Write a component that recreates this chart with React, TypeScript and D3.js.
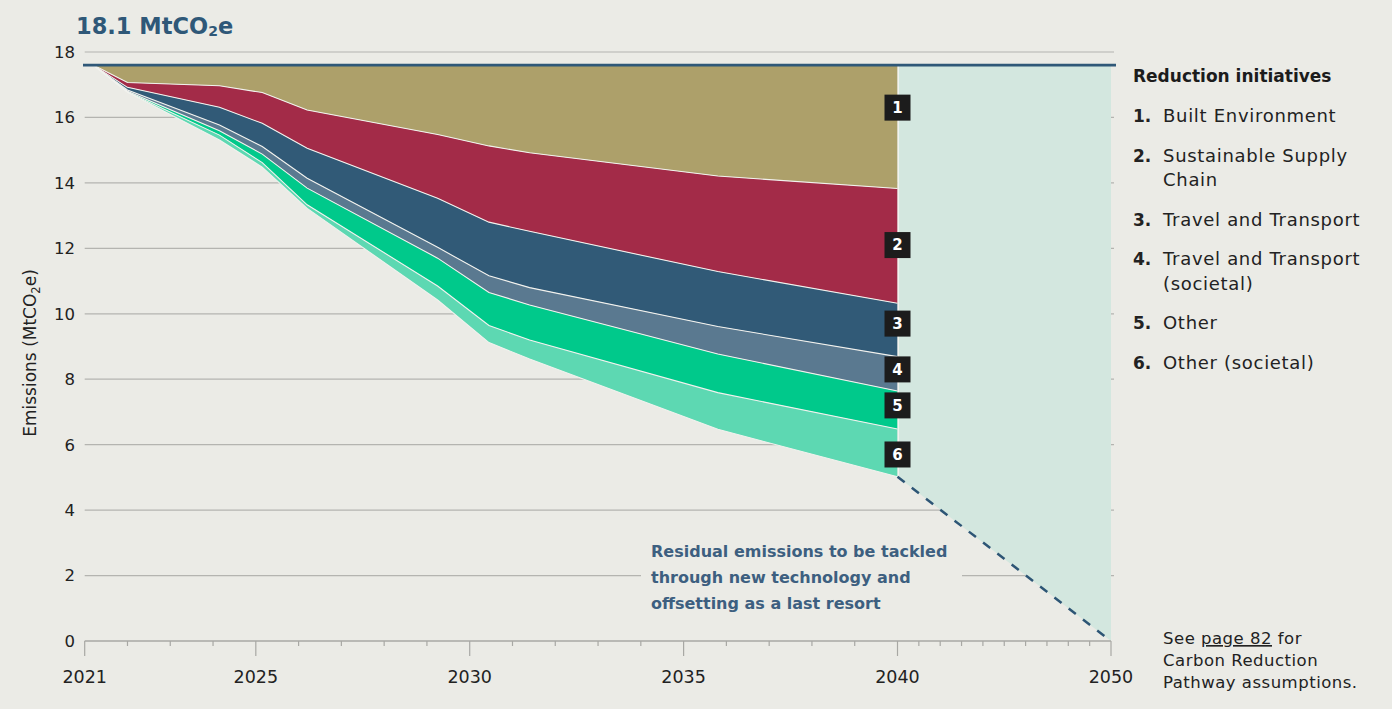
import React from "react";
import * as d3 from "d3";

// reading years (x) of the pathway breakpoints
const years = [2021.2, 2022, 2024.15, 2025.15, 2026.2, 2029.25, 2030.45, 2031.4, 2035.8, 2040];

// remaining emissions after all initiatives (MtCO2e)
const residual = [17.6, 16.77, 15.31, 14.48, 13.22, 10.42, 9.12, 8.62, 6.47, 5.02];

// reductions per initiative (MtCO2e)
const builtEnvironment = [0, 0.53, 0.63, 0.84, 1.37, 2.12, 2.47, 2.68, 3.39, 3.77];
const supplyChain = [0, 0.15, 0.66, 0.94, 1.17, 1.95, 2.33, 2.4, 2.92, 3.51];
const travel = [0, 0.08, 0.54, 0.71, 0.92, 1.5, 1.64, 1.72, 1.68, 1.63];
const travelSocietal = [0, 0.04, 0.18, 0.23, 0.3, 0.33, 0.51, 0.53, 0.84, 1.05];
const other = [0, 0.02, 0.13, 0.26, 0.51, 0.85, 1.01, 1.07, 1.18, 1.16];
const otherSocietal = [0, 0.01, 0.15, 0.14, 0.11, 0.43, 0.52, 0.58, 1.12, 1.46];

const baseline = 17.6;
const netZeroYear = 2050;
const yTicks = [0, 2, 4, 6, 8, 10, 12, 14, 16, 18];
const xTickLabels = [2021, 2025, 2030, 2035, 2040, 2050];
const minorYears = d3.range(2021, 2051);

const initiativeNames = [
  ["Built Environment"],
  ["Sustainable Supply", "Chain"],
  ["Travel and Transport"],
  ["Travel and Transport", "(societal)"],
  ["Other"],
  ["Other (societal)"],
];
// where the numbered boxes sit on the 2040 edge (MtCO2e)
const boxLevels = [16.3, 12.1, 9.7, 8.3, 7.2, 5.7];

const annotation = ["Residual emissions to be tackled", "through new technology and", "offsetting as a last resort"];

const colors = ["#ada06a", "#a32b48", "#315a77", "#5a7990", "#00c98b", "#5dd8b2"];
const keys = ["residual", "otherSocietal", "other", "travelSocietal", "travel", "supplyChain", "builtEnvironment"];

const rows = years.map((year, i) => ({
  year,
  residual: residual[i],
  otherSocietal: otherSocietal[i],
  other: other[i],
  travelSocietal: travelSocietal[i],
  travel: travel[i],
  supplyChain: supplyChain[i],
  builtEnvironment: builtEnvironment[i],
}));

const keyColor: Record<string, string> = {
  builtEnvironment: colors[0],
  supplyChain: colors[1],
  travel: colors[2],
  travelSocietal: colors[3],
  other: colors[4],
  otherSocietal: colors[5],
};

const W = 1392;
const H = 709;
const BLUE = "#2f5878";
const FONT = "'DejaVu Sans', sans-serif";

export default function App() {
  const x = d3.scaleLinear().domain([2021, 2040, 2050]).range([84.7, 897.5, 1111]);
  const y = d3.scaleLinear().domain([0, 18]).range([641, 52]);

  const series = d3.stack<any>().keys(keys)(rows);
  const area = d3
    .area<any>()
    .x(d => x(d.data.year))
    .y0(d => y(d[0]))
    .y1(d => y(d[1]));
  const line = d3
    .line<any>()
    .x(d => x(d.data.year))
    .y(d => y(d[1]));

  const last = years.length - 1;
  const endYear = years[last];
  const tealPts: [number, number][] = [
    [x(endYear), y(baseline)],
    [x(netZeroYear), y(baseline)],
    [x(netZeroYear), y(0)],
    [x(endYear), y(residual[last])],
  ];

  return (
    <svg width={W} height={H} style={{ position: "absolute", left: 0, top: 0 }} fontFamily={FONT}>
      <rect width={W} height={H} fill="#ebebe6" />

      {/* grid */}
      {yTicks.slice(1).map(t => (
        <line key={t} x1={x(2021)} x2={1114} y1={y(t)} y2={y(t)} stroke="#b4b4b0" strokeWidth={1.2} />
      ))}
      {yTicks.map(t => (
        <text key={t} x={75} y={y(t)} dy="0.36em" textAnchor="end" fontSize={16.5} fill="#222">
          {t}
        </text>
      ))}

      {/* residual area to 2050 */}
      <polygon points={tealPts.map(p => p.join(",")).join(" ")} fill="#d3e7df" />

      {/* stacked reductions */}
      {series.slice(1).map(s => (
        <path key={s.key} d={area(s) || ""} fill={keyColor[s.key]} />
      ))}
      {series.slice(0, -1).map(s => (
        <path key={s.key} d={line(s) || ""} fill="none" stroke="#f2f2ee" strokeWidth={1.1} />
      ))}
      <line x1={x(endYear) + 0.8} x2={x(endYear) + 0.8} y1={y(baseline)} y2={y(residual[last])} stroke="#f2f2ee" strokeWidth={1.4} />

      {/* baseline + path to net zero */}
      <line x1={83} x2={1116} y1={y(baseline)} y2={y(baseline)} stroke={BLUE} strokeWidth={2.6} />
      <line
        x1={x(endYear)}
        y1={y(residual[last])}
        x2={x(netZeroYear)}
        y2={y(0)}
        stroke="#2d5575"
        strokeWidth={2.5}
        strokeDasharray="9 9"
      />

      {/* x axis */}
      <line x1={x(2021)} x2={x(2050)} y1={y(0)} y2={y(0)} stroke="#a8a8a4" strokeWidth={1.3} />
      {minorYears.map(yr => (
        <line
          key={yr}
          x1={x(yr)}
          x2={x(yr)}
          y1={y(0)}
          y2={y(0) + (xTickLabels.includes(yr) ? 15 : 5)}
          stroke="#a8a8a4"
          strokeWidth={1.2}
        />
      ))}
      {xTickLabels.map(yr => (
        <text key={yr} x={x(yr)} y={683} textAnchor="middle" fontSize={17.5} fill="#222">
          {yr}
        </text>
      ))}

      <text transform="translate(36,353) rotate(-90)" textAnchor="middle" fontSize={17} fill="#222">
        Emissions (MtCO<tspan fontSize={11.5} dy={4}>2</tspan>
        <tspan dy={-4}>e)</tspan>
      </text>

      {/* title */}
      <text x={76} y={34} fontSize={22.5} fontWeight={700} fill={BLUE}>
        18.1 MtCO<tspan fontSize={14} dy={2}>2</tspan>
        <tspan dy={-2}>e</tspan>
      </text>

      {/* number boxes */}
      {boxLevels.map((v, i) => (
        <g key={i} transform={`translate(${x(endYear)},${y(v)})`}>
          <rect x={-13} y={-13} width={26} height={26} fill="#1c1c1c" />
          <text y={0} dy="0.36em" textAnchor="middle" fontSize={15} fontWeight={700} fill="#fff">
            {i + 1}
          </text>
        </g>
      ))}

      {/* annotation */}
      <rect x={641} y={536} width={321} height={80} fill="#ebebe6" />
      {annotation.map((t, i) => (
        <text key={t} x={651} y={557 + i * 26} fontSize={16} fontWeight={700} fill="#3d5f80">
          {t}
        </text>
      ))}

      {/* legend */}
      <text x={1133} y={82} fontSize={17} fontWeight={700} fill="#1c1c1c">
        Reduction initiatives
      </text>
      {(() => {
        let cy = 122;
        return initiativeNames.map((lines, i) => {
          const g = (
            <g key={i}>
              <text x={1133} y={cy} fontSize={17} fontWeight={700} fill="#222">
                {i + 1}.
              </text>
              {lines.map((l, j) => (
                <text key={j} x={1163} y={cy + j * 24.5} fontSize={18} letterSpacing={0.7} fill="#222">
                  {l}
                </text>
              ))}
            </g>
          );
          cy += 39.5 + (lines.length - 1) * 24.5;
          return g;
        });
      })()}

      {/* footnote */}
      {[
        <>
          See <tspan textDecoration="underline">page 82</tspan> for
        </>,
        <>Carbon Reduction</>,
        <>Pathway assumptions.</>,
      ].map((content, i) => (
        <text key={i} x={1163} y={644 + i * 22} fontSize={16.5} letterSpacing={0.5} fill="#222">
          {content}
        </text>
      ))}
    </svg>
  );
}
